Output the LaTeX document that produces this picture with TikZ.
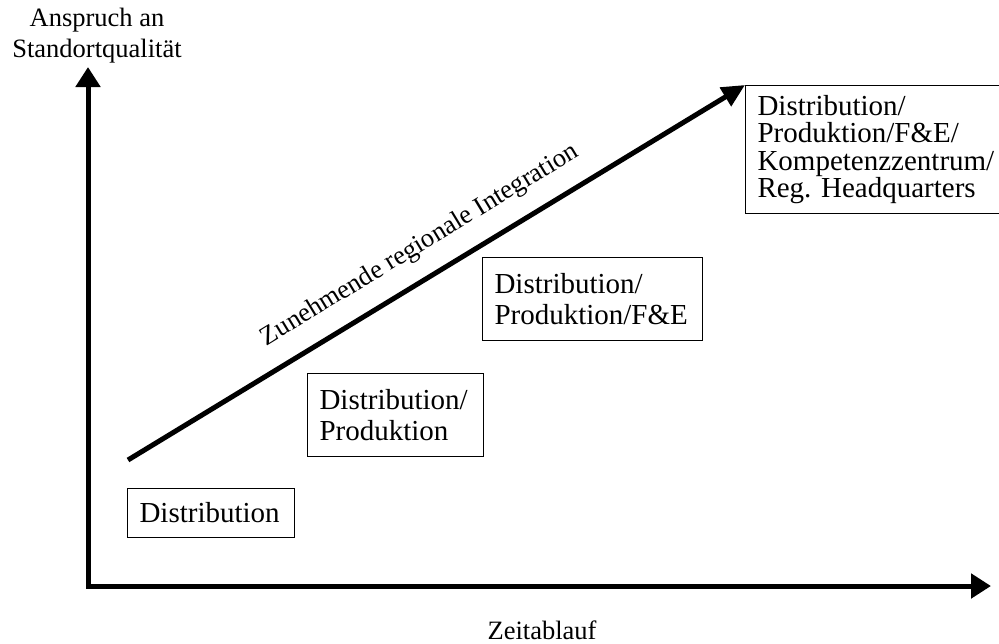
\documentclass[tikz,border=0pt]{standalone}
\usepackage{fontspec}
\setmainfont{Liberation Serif}
\usetikzlibrary{arrows.meta}
\tikzset{
  axis/.style={line width=5pt,line cap=rect,-{Triangle[length=20pt,width=24pt]}},
  trend/.style={line width=5pt,-{Triangle[length=23pt,width=21pt]}},
  stage/.style={draw,line width=1pt,anchor=north west,inner xsep=12pt,inner ysep=0pt,
    align=left,font=\fontsize{29}{31}\selectfont},
  lbl/.style={font=\fontsize{26.5}{31}\selectfont,align=center}
}

\begin{document}
\begin{tikzpicture}[x=1pt,y=-1pt]
  \useasboundingbox (0,0) rectangle (999,643);
  % axes
  \coordinate (O) at (88,586);
  \coordinate (ytip) at (88,67);
  \coordinate (xtip) at (991,586);
  \draw[axis] (O) -- (ytip);
  \draw[axis] (O) -- (xtip);
  \node[lbl] (ylab) at (97,36) {Anspruch an\\Standortqualität};
  \node[lbl] (xlab) at (542,630) {Zeitablauf};
  % stages
  \node[stage,text width=143pt,minimum height=49pt] (d1) at (127,488) {Distribution};
  \node[stage,text width=152pt,minimum height=83pt] (d2) at (307,373) {Distribution/\\Produktion};
  \node[stage,text width=196pt,minimum height=83pt] (d3) at (482,257) {Distribution/\\Produktion/F\&E};
  \node[stage,text width=256pt,minimum height=128pt,font=\fontsize{29}{27.5}\selectfont] (d4) at (745,85)
    {Distribution/\\Produktion/F\&E/\\Kompetenzzentrum/\\Reg.\ Headquarters};
  % trend arrow
  \coordinate (s) at (128,460);
  \draw[trend] (s) -- (d4.north west)
    node[pos=0.5,sloped,above=17pt,inner sep=0pt,font=\fontsize{26.5}{30}\selectfont]
    (trendlbl) {Zunehmende regionale Integration};
\end{tikzpicture}
\end{document}
